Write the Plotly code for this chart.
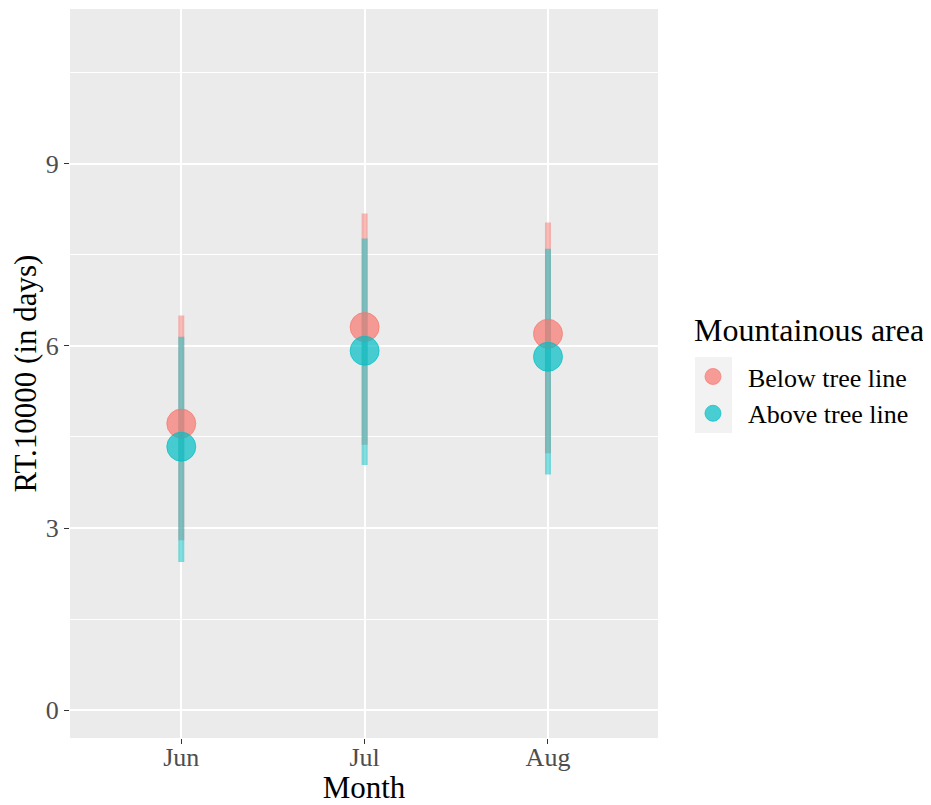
import plotly.graph_objects as go

# ---- data ----
months = ["Jun", "Jul", "Aug"]
below_mean = [4.72, 6.31, 6.20]
below_low = [2.80, 4.37, 4.23]
below_high = [6.50, 8.18, 8.03]
above_mean = [4.34, 5.92, 5.82]
above_low = [2.44, 4.04, 3.88]
above_high = [6.15, 7.77, 7.60]
series_names = ["Below tree line", "Above tree line"]
legend_title = "Mountainous area"
y_ticks = [0, 3, 6, 9]
y_minor = [1.5, 4.5, 7.5, 10.5]

FONT = "Liberation Serif, Times New Roman, serif"
RED = "248,118,109"
TEAL = "0,191,196"


def segments(xs, lo, hi):
    X, Y = [], []
    for x, l, h in zip(xs, lo, hi):
        X += [x, x, None]
        Y += [l, h, None]
    return X, Y


fig = go.Figure()

# error ranges (drawn first, like geom_linerange)
for lo, hi, col in [(below_low, below_high, RED), (above_low, above_high, TEAL)]:
    X, Y = segments(months, lo, hi)
    fig.add_trace(go.Scatter(
        x=X, y=Y, mode="lines",
        line=dict(color=f"rgba({col},0.5)", width=6),
        showlegend=False, hoverinfo="skip",
    ))

# points
for name, mean, col in [(series_names[0], below_mean, RED), (series_names[1], above_mean, TEAL)]:
    fig.add_trace(go.Scatter(
        x=months, y=mean, mode="markers", name=name,
        marker=dict(size=29, color=f"rgba({col},0.7)",
                    line=dict(width=1, color=f"rgba({col},0.7)")),
    ))

# legend key background (ggplot legend.key)
fig.add_shape(type="rect", xref="paper", yref="paper",
              x0=1.0629, x1=1.1259, y0=0.4184, y1=0.5226,
              fillcolor="#F2F2F2", line=dict(width=0), layer="below")

# legend title as text
fig.add_annotation(text=legend_title, xref="paper", yref="paper",
                   x=1.058, y=0.5597, xanchor="left", yanchor="middle",
                   showarrow=False, font=dict(size=32, family=FONT, color="black"))

# page body has an 8px margin: figure is 923x797 so it fills the 931x805 window
fig.update_layout(
    width=923, height=797,
    margin=dict(l=62, r=273, t=1, b=67, autoexpand=False),
    paper_bgcolor="white",
    plot_bgcolor="#EBEBEB",
    font=dict(family=FONT, color="black"),
    showlegend=True,
    legend=dict(
        font=dict(size=26, family=FONT, color="black"),
        x=1.034, xanchor="left", y=0.528, yanchor="top",
        bgcolor="rgba(0,0,0,0)",
        itemsizing="trace", itemwidth=60,
    ),
    xaxis=dict(
        type="category", categoryorder="array", categoryarray=months,
        range=[-0.607, 2.6],
        showgrid=True, gridcolor="white", gridwidth=2,
        zeroline=False, showline=False,
        ticks="outside", ticklen=5, tickwidth=1, tickcolor="#333333",
        tickfont=dict(size=26, family=FONT, color="#4D4D4D"),
        ticklabelstandoff=-9,
        title=dict(text="Month", font=dict(size=31, family=FONT, color="black"), standoff=9),
    ),
    yaxis=dict(
        range=[-0.458, 11.548],
        tickmode="array", tickvals=y_ticks, ticktext=[str(v) for v in y_ticks],
        showgrid=True, gridcolor="white", gridwidth=2,
        zeroline=False, showline=False,
        ticks="outside", ticklen=5, tickwidth=1, tickcolor="#333333",
        tickfont=dict(size=26, family=FONT, color="#4D4D4D"),
        minor=dict(tickvals=y_minor, showgrid=True, gridcolor="white", gridwidth=1, ticks=""),
        title=dict(text="RT.10000 (in days)", font=dict(size=31, family=FONT, color="black"), standoff=2),
    ),
)

fig.write_html("out.html")
